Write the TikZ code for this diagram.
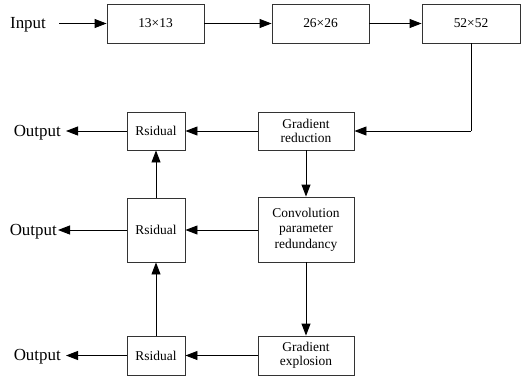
\documentclass[tikz,border=0pt]{standalone}
\usepackage{fontspec}
\setmainfont{Liberation Serif}
\usetikzlibrary{arrows.meta}
\begin{document}
\begin{tikzpicture}[x=1bp,y=-1bp,
  box/.style={draw=black!80,line width=0.9bp,rectangle,minimum width=#1,align=center,inner sep=0pt,font=\fontsize{13.5}{15.5}\selectfont},
  box/.default=97bp,
  lbl/.style={inner sep=0pt,font=\fontsize{17}{20}\selectfont},
  arr/.style={line width=0.9bp,-{Triangle[length=12bp,width=9bp]}},
  ln/.style={line width=0.9bp}]
\useasboundingbox (0,0) rectangle (527,378);
% top row
\node[lbl] (in) at (28,25) {Input};
\node[box,minimum height=39bp] (b13) at (155.5,23.5) {13×13};
\node[box,minimum height=39bp] (b26) at (320.5,23.5) {26×26};
\node[box,minimum height=39bp,minimum width=98bp] (b52) at (471,23.5) {52×52};
\coordinate (inr) at (59,23.5);
\draw[arr] (inr) -- (b13);
\draw[arr] (b13) -- (b26);
\draw[arr] (b26) -- (b52);
% middle column
\node[box,minimum height=38bp,minimum width=96bp] (gr) at (306,131) {Gradient\\[-1bp]reduction};
\node[box,minimum height=65bp,minimum width=96bp] (cv) at (306,229.5) {Convolution\\parameter\\redundancy};
\node[box,minimum height=39bp,minimum width=96bp] (ge) at (306,355.5) {Gradient\\[-1bp]explosion};
\coordinate (corner) at (471,131);
\draw[ln] (b52.south) -- (corner);
\draw[arr] (corner) -- (gr.east);
\draw[arr] (gr) -- (cv);
\draw[arr] (cv) -- (ge);
% residual column
\node[box,minimum height=38bp,minimum width=58bp] (r1) at (156,131) {Rsidual};
\node[box,minimum height=64bp,minimum width=58bp] (r2) at (156,230) {Rsidual};
\node[box,minimum height=39bp,minimum width=58bp] (r3) at (156,355.5) {Rsidual};
\draw[arr] (gr) -- (r1);
\draw[arr] (cv.west |- r2) -- (r2);
\draw[arr] (ge) -- (r3);
\draw[arr] (r3) -- (r2);
\draw[arr] (r2) -- (r1);
% outputs
\node[lbl,anchor=east] (o1) at (61,132.5) {Output};
\node[lbl,anchor=east] (o2) at (57,231.5) {Output};
\node[lbl,anchor=east] (o3) at (61,357) {Output};
\draw[arr,shorten >=5bp] (r1) -- (o1.east |- r1);
\draw[arr,shorten >=1bp] (r2) -- (o2.east |- r2);
\draw[arr,shorten >=5bp] (r3) -- (o3.east |- r3);
\end{tikzpicture}
\end{document}
